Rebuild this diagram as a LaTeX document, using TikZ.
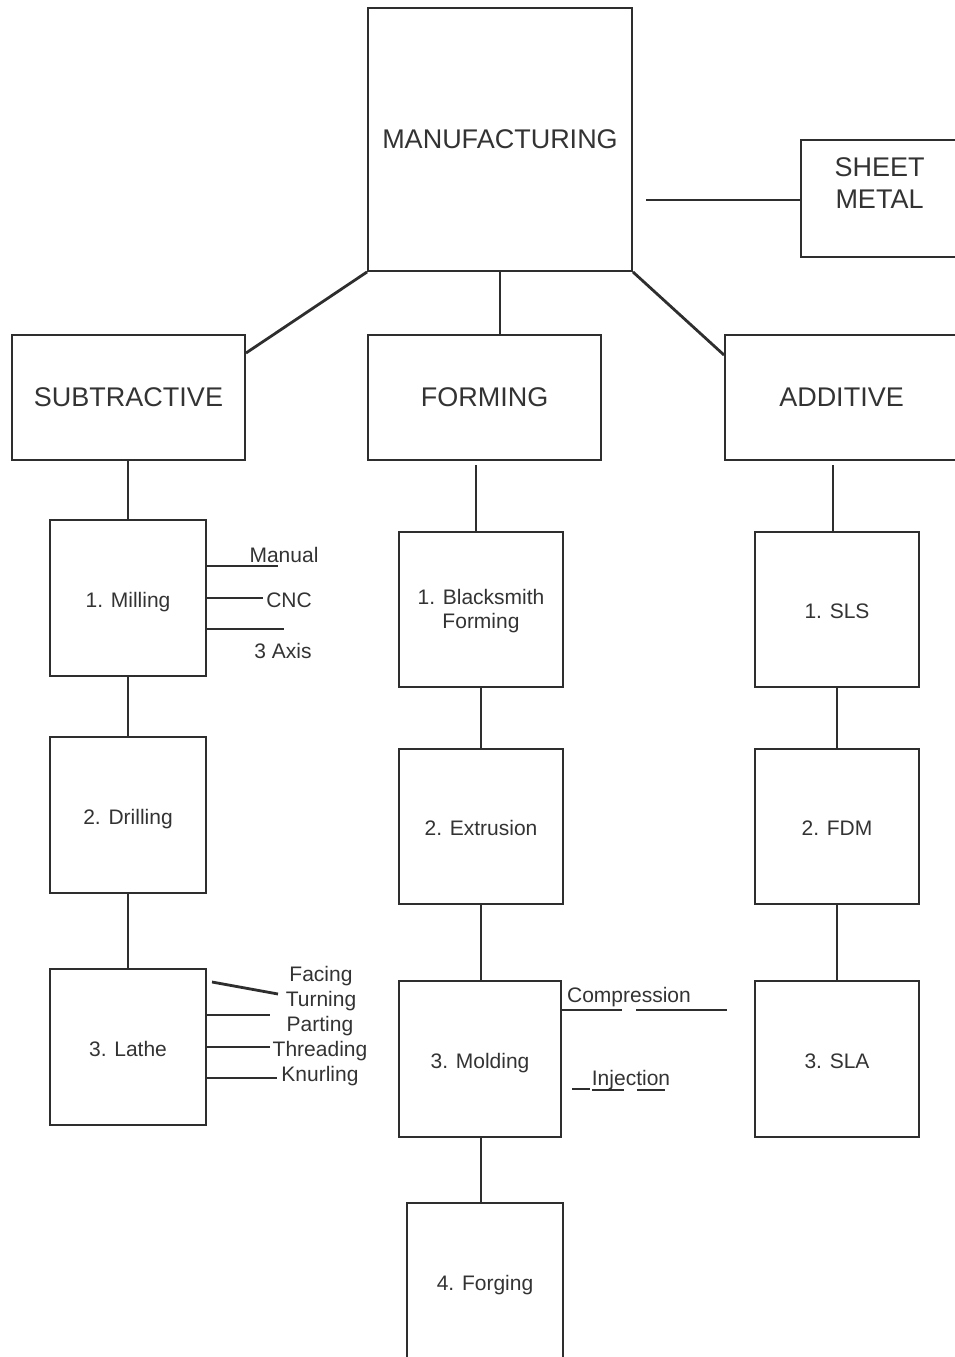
\documentclass[tikz,border=0pt]{standalone}
\usepackage{fontspec}
\setmainfont{Liberation Sans}
\usetikzlibrary{calc}
\definecolor{ln}{HTML}{2E2E2E}
\definecolor{tx}{HTML}{333333}
\tikzset{
  box/.style={draw=ln, line width=1.9pt, rectangle, inner sep=0pt, align=center, text=tx},
  big/.style={box, font=\fontsize{27}{32}\selectfont},
  small/.style={box, font=\fontsize{21}{25}\selectfont, text height=18pt, text depth=0pt},
  conn/.style={draw=ln, line width=2.8pt},
  thin/.style={draw=ln, line width=1.4pt},
  lbl/.style={inner sep=0pt, text=tx, font=\fontsize{21}{25}\selectfont}
}
\begin{document}
\begin{tikzpicture}[x=1pt,y=-1pt]
\useasboundingbox (0,0) rectangle (954,1357);
% main level
\node[big, minimum width=264pt, minimum height=263pt] (man) at (500,139.5) {MANUFACTURING};
\node[big, minimum width=157pt, minimum height=117pt, text depth=31pt] (sheet) at (879.5,198.5) {SHEET\\METAL};
\node[big, minimum width=233pt, minimum height=125pt] (sub) at (128.5,397.5) {SUBTRACTIVE};
\node[big, minimum width=233pt, minimum height=125pt] (form) at (484.5,397.5) {FORMING};
\node[big, minimum width=233pt, minimum height=125pt] (add) at (841.5,397.5) {ADDITIVE};
\coordinate (sheetstart) at (646,200);
\draw[conn] (sheetstart) -- (sheet.west |- sheetstart);
\draw[conn] (man.south west) -- ($(sub.north east)+(0,19)$);
\draw[conn] (man.south) -- (man.south |- form.north);
\draw[conn] (man.south east) -- ($(add.north west)+(0,21)$);
% subtractive column
\node[small, minimum width=156pt, minimum height=156pt] (mill) at (128,598) {1. Milling};
\node[small, minimum width=156pt, minimum height=156pt] (drill) at (128,815) {2. Drilling};
\node[small, minimum width=156pt, minimum height=156pt] (lathe) at (128,1047) {3. Lathe};
\draw[conn] (sub.south -| mill.north) -- (mill.north);
\draw[conn] (mill.south) -- (drill.north);
\draw[conn] (drill.south) -- (lathe.north);
% milling branches
\coordinate (mA) at (278,566);
\coordinate (mB) at (263,598);
\coordinate (mC) at (284,629);
\draw[conn] (mill.east |- mA) -- (mA);
\draw[conn] (mill.east |- mB) -- (mB);
\draw[conn] (mill.east |- mC) -- (mC);
\node[lbl] (lmA) at (284,555) {Manual};
\node[lbl] (lmB) at (289,600) {CNC};
\node[lbl] (lmC) at (283,651) {3 Axis};
% lathe branches
\coordinate (lA0) at (212,982);
\coordinate (lA) at (278,994);
\coordinate (lB) at (270,1015);
\coordinate (lC) at (270,1047);
\coordinate (lD) at (277,1078);
\draw[conn] (lA0) -- (lA);
\draw[conn] (lathe.east |- lB) -- (lB);
\draw[conn] (lathe.east |- lC) -- (lC);
\draw[conn] (lathe.east |- lD) -- (lD);
\node[lbl] (lt1) at (321,976) {Facing};
\node[lbl] (lt2) at (321,1001) {Turning};
\node[lbl] (lt3) at (320,1026) {Parting};
\node[lbl] (lt4) at (320,1051) {Threading};
\node[lbl] (lt5) at (320,1076) {Knurling};
% forming column
\node[box, font=\fontsize{21}{25}\selectfont, minimum width=164pt, minimum height=155pt] (black) at (481,609.5) {\\[-6pt]1. Blacksmith\\[-1pt]Forming};
\node[small, minimum width=164pt, minimum height=155pt] (extr) at (481,826.5) {2. Extrusion};
\node[small, minimum width=162pt, minimum height=156pt] (mold) at (480,1059) {3. Molding};
\node[small, minimum width=156pt, minimum height=157pt] (forg) at (485,1281.5) {4. Forging};
\coordinate (fA) at (476,465);
\draw[conn] (fA) -- (fA |- black.north);
\draw[conn] (black.south) -- (extr.north);
\draw[conn] (extr.south) -- (extr.south |- mold.north);
\draw[conn] (mold.south -| forg.north) ++(-4,0) -- ++(0,66);
% molding branches
\coordinate (cA) at (560,1010);
\coordinate (cB) at (622,1010);
\coordinate (cC) at (636,1010);
\coordinate (cD) at (727,1010);
\draw[conn] (cA) -- (cB);
\draw[conn] (cC) -- (cD);
\node[lbl] (lc) at (629,997) {Compression};
\coordinate (iA) at (572,1089);
\coordinate (iB) at (590,1089);
\coordinate (iC) at (592,1090);
\coordinate (iD) at (624,1090);
\coordinate (iE) at (637,1090);
\coordinate (iF) at (665,1090);
\draw[conn] (iA) -- (iB);
\draw[thin] (iC) -- (iD);
\draw[thin] (iE) -- (iF);
\node[lbl] (li) at (631,1080) {Injection};
% additive column
\node[small, minimum width=164pt, minimum height=155pt] (sls) at (837,609.5) {1. SLS};
\node[small, minimum width=164pt, minimum height=155pt] (fdm) at (837,826.5) {2. FDM};
\node[small, minimum width=164pt, minimum height=156pt] (sla) at (837,1059) {3. SLA};
\coordinate (aA) at (833,465);
\draw[conn] (aA) -- (aA |- sls.north);
\draw[conn] (sls.south) -- (fdm.north);
\draw[conn] (fdm.south) -- (sla.north);
\end{tikzpicture}
\end{document}
